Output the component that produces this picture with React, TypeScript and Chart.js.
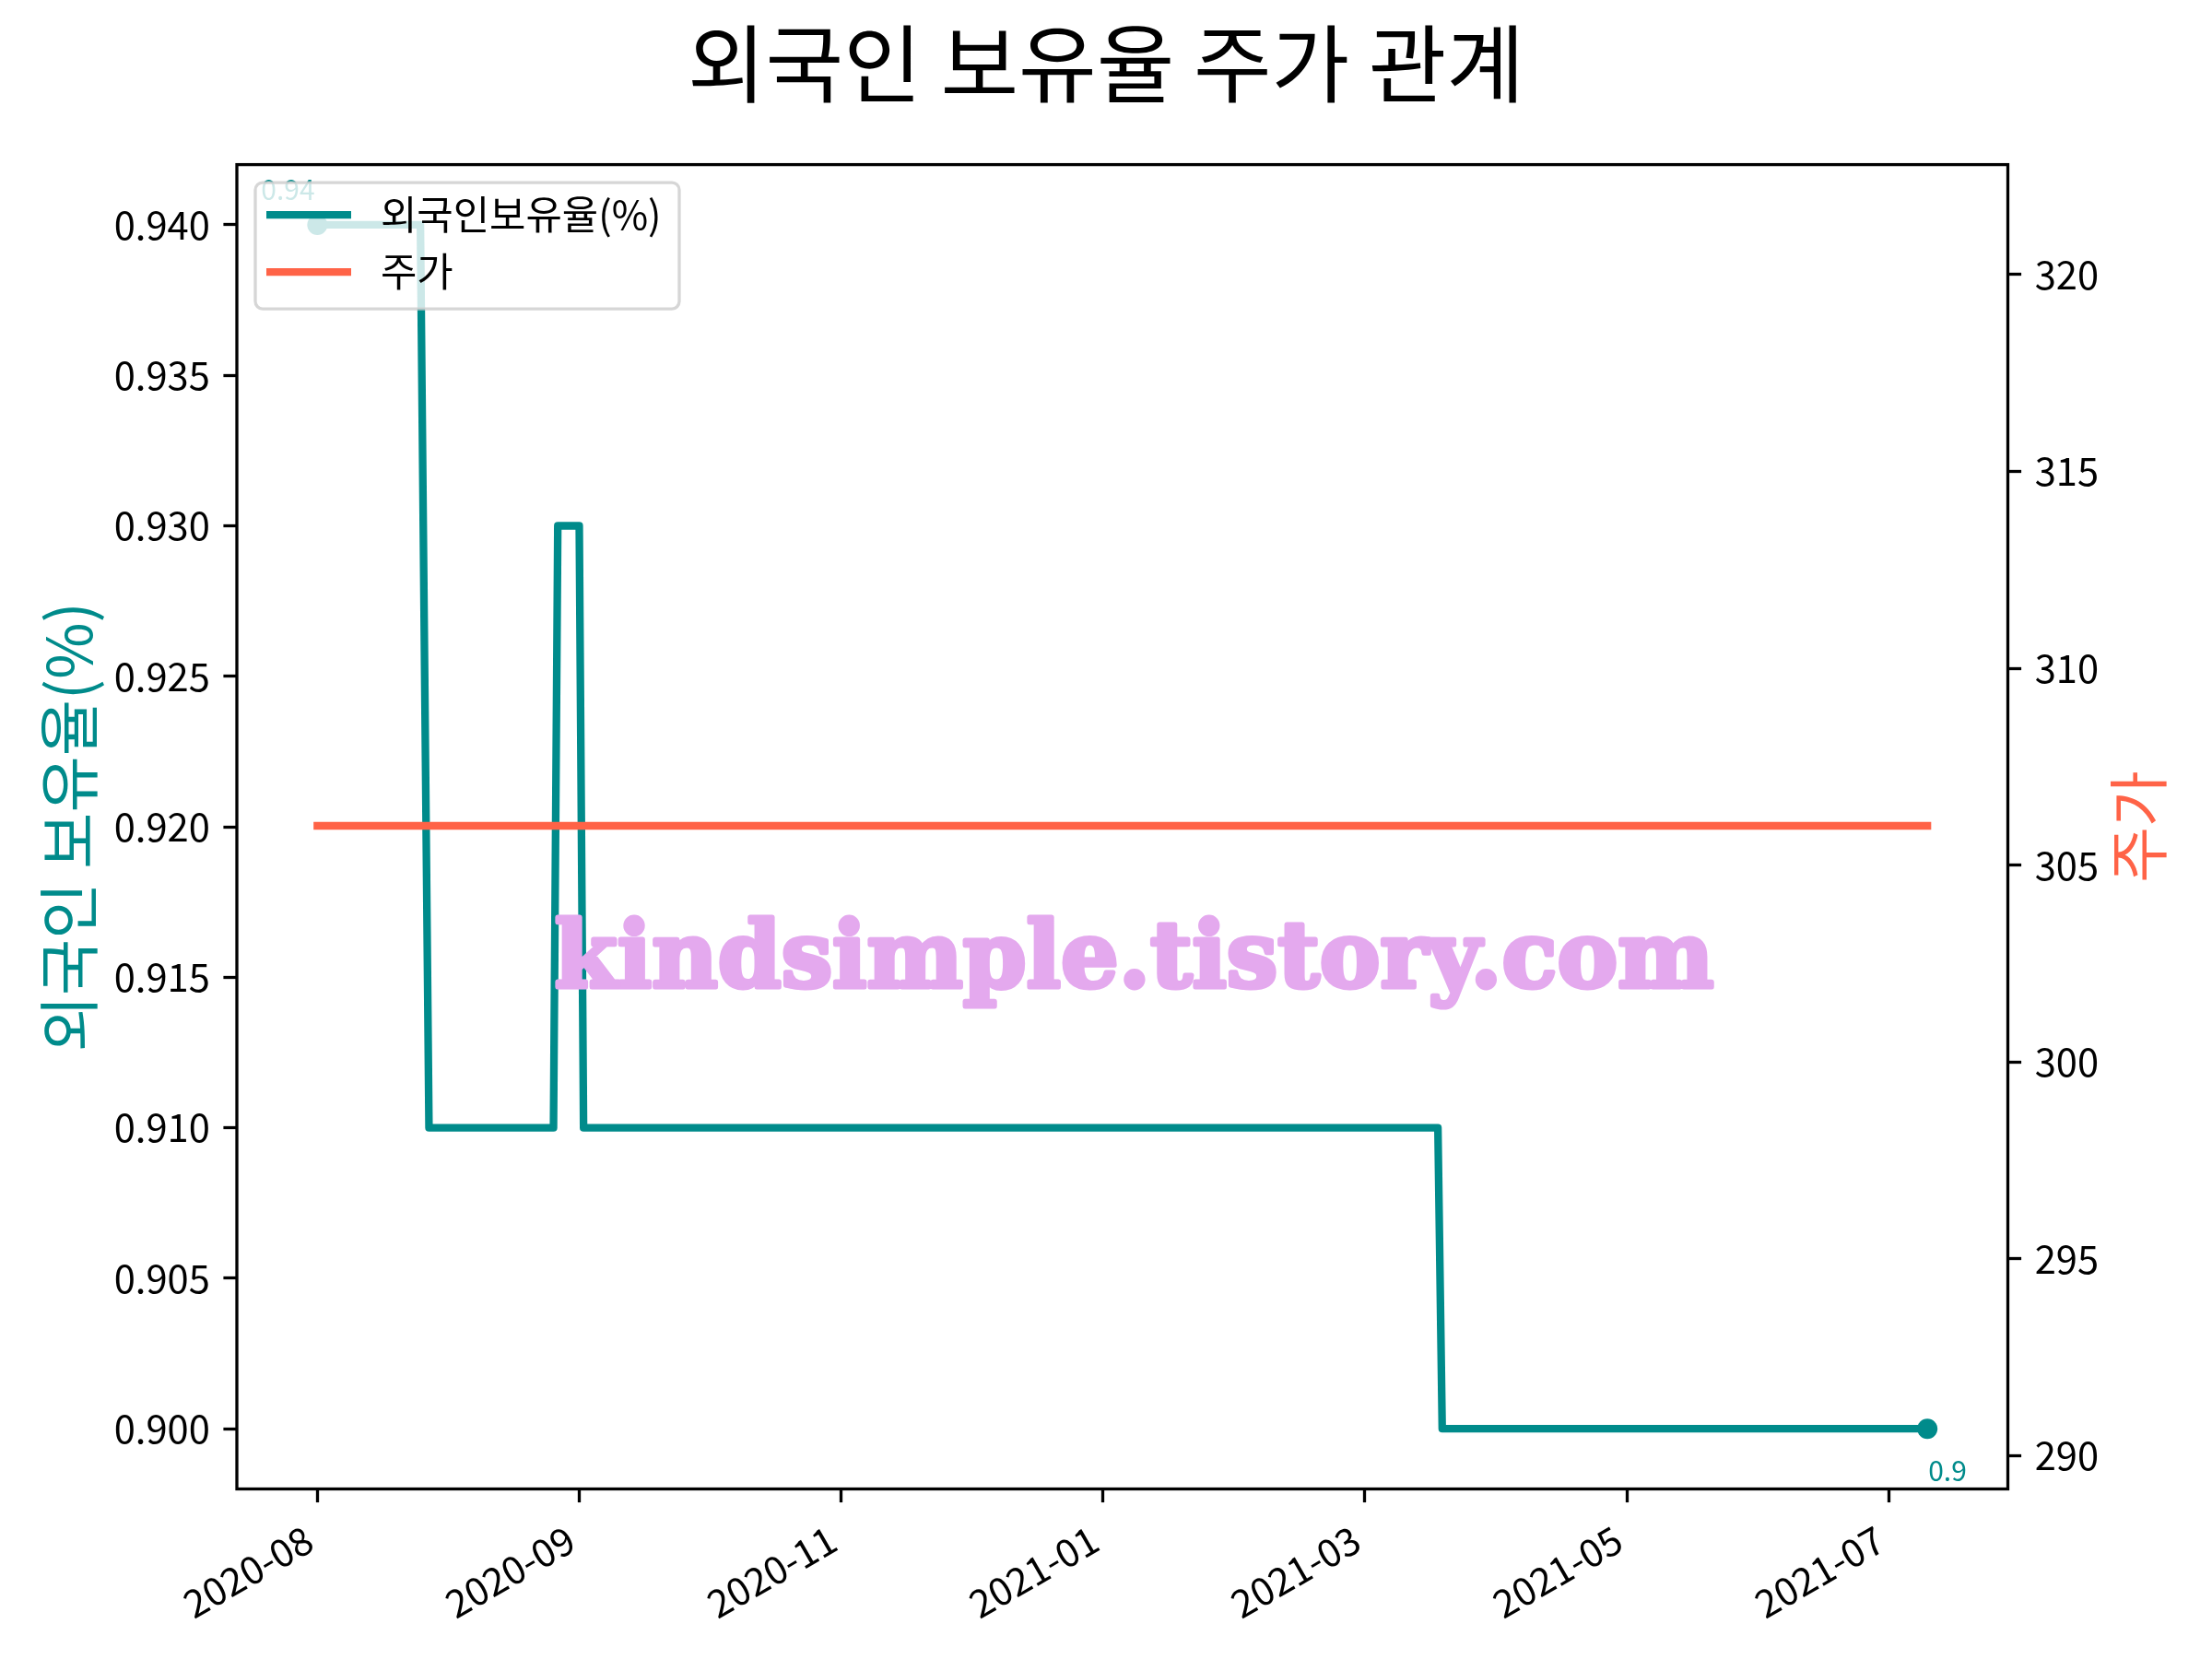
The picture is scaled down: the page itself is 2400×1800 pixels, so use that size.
import React, { useEffect, useRef } from 'react';
import { Chart, registerables } from 'chart.js';

Chart.register(...registerables);

// ---------- data ----------
const TITLE = '외국인 보유율 주가 관계';
const LEFT_LABEL = '외국인 보유율(%)';
const RIGHT_LABEL = '주가';
const HOLD_LABEL = '외국인보유율(%)';
const PRICE_LABEL = '주가';
const WATERMARK = 'kindsimple.tistory.com';

// x values: days counted from the first observation
const holdDays = [0, 24, 26, 55, 56, 61, 62, 261, 262, 375];
const holdRatio = [0.94, 0.94, 0.91, 0.91, 0.93, 0.93, 0.91, 0.91, 0.9, 0.9];
const priceDays = [0, 375];
const priceValues = [306, 306];

const xTickDays = [0, 61, 122, 183, 244, 305, 366];
const xTickLabels = ['2020-08', '2020-09', '2020-11', '2021-01', '2021-03', '2021-05', '2021-07'];
const leftTicks = [0.9, 0.905, 0.91, 0.915, 0.92, 0.925, 0.93, 0.935, 0.94];
const rightTicks = [290, 295, 300, 305, 310, 315, 320];

const X_MIN = -18.75;
const X_MAX = 393.75;
const LEFT_MIN = 0.898;
const LEFT_MAX = 0.942;
const RIGHT_MIN = 289.16;
const RIGHT_MAX = 322.79;

// ---------- styles ----------
const TEAL = '#008B8B';
const TOMATO = '#FF6347';
const FONT = "'Noto Sans CJK KR', 'Noto Sans', sans-serif";
const LW = 8.3;
const TICK_LEN = 14.6;
const TICK_W = 3.3;

const overlayPlugin = {
  id: 'overlay',
  afterDatasetsDraw(chart: any) {
    const ctx: CanvasRenderingContext2D = chart.ctx;
    const a = chart.chartArea;
    const xs = chart.scales.x;
    const ys = chart.scales.y;
    ctx.save();

    // value annotations
    ctx.font = `30px ${FONT}`;
    ctx.fillStyle = TEAL;
    ctx.textBaseline = 'alphabetic';
    ctx.textAlign = 'left';
    const n = holdDays.length - 1;
    ctx.fillText(String(holdRatio[0]), xs.getPixelForValue(holdDays[0]) - 61, ys.getPixelForValue(holdRatio[0]) - 27);
    ctx.fillText(String(holdRatio[n]), xs.getPixelForValue(holdDays[n]) + 1, ys.getPixelForValue(holdRatio[n]) + 57);

    // frame
    ctx.strokeStyle = '#000';
    ctx.lineWidth = TICK_W;
    ctx.strokeRect(a.left, a.top, a.right - a.left, a.bottom - a.top);

    // legend
    const lx = a.left + 20;
    const ly = a.top + 19.5;
    const lw = 460;
    const lh = 137;
    ctx.beginPath();
    (ctx as any).roundRect(lx, ly, lw, lh, 8);
    ctx.fillStyle = 'rgba(255,255,255,0.8)';
    ctx.fill();
    ctx.strokeStyle = 'rgba(204,204,204,0.8)';
    ctx.lineWidth = 3.3;
    ctx.stroke();
    const items = [
      { label: HOLD_LABEL, color: TEAL, y: ly + 35 },
      { label: PRICE_LABEL, color: TOMATO, y: ly + 97 },
    ];
    ctx.font = `42.8px ${FONT}`;
    ctx.textBaseline = 'middle';
    for (const it of items) {
      ctx.strokeStyle = it.color;
      ctx.lineWidth = LW;
      ctx.lineCap = 'butt';
      ctx.beginPath();
      ctx.moveTo(lx + 12, it.y);
      ctx.lineTo(lx + 104, it.y);
      ctx.stroke();
      ctx.fillStyle = '#000';
      ctx.fillText(it.label, lx + 136, it.y);
    }

    // watermark
    ctx.font = `bold 100px 'DejaVu Serif', serif`;
    const w = ctx.measureText(WATERMARK).width;
    const targetW = 1258;
    ctx.translate(1230.5, 1071);
    ctx.scale(targetW / w, 1);
    ctx.textAlign = 'center';
    ctx.textBaseline = 'alphabetic';
    ctx.fillStyle = '#E4A9EE';
    ctx.strokeStyle = '#E4A9EE';
    ctx.lineWidth = 5;
    ctx.lineJoin = 'round';
    ctx.strokeText(WATERMARK, 0, 0);
    ctx.fillText(WATERMARK, 0, 0);
    ctx.restore();

    // right axis title
    ctx.save();
    ctx.translate(2320, (a.top + a.bottom) / 2);
    ctx.rotate(-Math.PI / 2);
    ctx.font = `66px ${FONT}`;
    ctx.fillStyle = TOMATO;
    ctx.textAlign = 'center';
    ctx.textBaseline = 'middle';
    ctx.fillText(RIGHT_LABEL, 0, 0);
    ctx.restore();
  },
};

export default function App() {
  const ref = useRef<HTMLCanvasElement | null>(null);

  useEffect(() => {
    if (!ref.current) return;
    const pointSizes = holdDays.map((_, i) => (i === 0 || i === holdDays.length - 1 ? 11 : 0));
    const tickFont = { family: FONT, size: 41.7 };
    const gridCommon = {
      drawOnChartArea: false,
      drawTicks: true,
      tickLength: TICK_LEN,
      tickWidth: TICK_W,
      tickColor: '#000',
    };
    const chart = new Chart(ref.current, {
      type: 'line',
      data: {
        datasets: [
          {
            label: PRICE_LABEL,
            data: priceDays.map((d, i) => ({ x: d, y: priceValues[i] })),
            borderColor: TOMATO,
            backgroundColor: TOMATO,
            borderWidth: LW,
            pointRadius: 0,
            borderCapStyle: 'square',
            borderJoinStyle: 'round',
            yAxisID: 'y1',
            order: 0,
          },
          {
            label: HOLD_LABEL,
            data: holdDays.map((d, i) => ({ x: d, y: holdRatio[i] })),
            borderColor: TEAL,
            backgroundColor: TEAL,
            borderWidth: LW,
            pointRadius: pointSizes,
            pointBorderWidth: 0,
            pointBackgroundColor: TEAL,
            borderCapStyle: 'square',
            borderJoinStyle: 'round',
            yAxisID: 'y',
            order: 1,
          },
        ],
      },
      options: {
        responsive: false,
        animation: false,
        devicePixelRatio: 1,
        layout: { padding: 0 },
        plugins: {
          legend: { display: false },
          tooltip: { enabled: false },
          title: {
            display: true,
            text: TITLE,
            color: '#000',
            font: { family: FONT, size: 92, weight: 'normal', lineHeight: 1.2 },
            padding: { top: 14, bottom: 54.2 },
          },
        },
        scales: {
          x: {
            type: 'linear',
            min: X_MIN,
            max: X_MAX,
            afterFit: (s: any) => {
              s.height = 184.5;
            },
            afterBuildTicks: (s: any) => {
              s.ticks = xTickDays.map((v) => ({ value: v }));
            },
            ticks: {
              autoSkip: false,
              minRotation: 30,
              maxRotation: 30,
              padding: 15,
              labelOffset: -9,
              color: '#000',
              font: tickFont,
              callback: (_v: any, i: number) => xTickLabels[i],
            },
            grid: gridCommon,
            border: { display: false },
          },
          y: {
            position: 'left',
            min: LEFT_MIN,
            max: LEFT_MAX,
            afterFit: (s: any) => {
              s.width = 257;
            },
            afterBuildTicks: (s: any) => {
              s.ticks = leftTicks.map((v) => ({ value: v }));
            },
            ticks: {
              padding: 14.6,
              color: '#000',
              font: tickFont,
              callback: (v: any) => Number(v).toFixed(3),
            },
            grid: gridCommon,
            border: { display: false },
            title: {
              display: true,
              text: LEFT_LABEL,
              color: TEAL,
              font: { family: FONT, size: 66.5, lineHeight: 1.2 },
              padding: { top: 35, bottom: 0 },
            },
          },
          y1: {
            position: 'right',
            min: RIGHT_MIN,
            max: RIGHT_MAX,
            afterFit: (s: any) => {
              s.width = 221.5;
            },
            afterBuildTicks: (s: any) => {
              s.ticks = rightTicks.map((v) => ({ value: v }));
            },
            ticks: {
              padding: 14.6,
              color: '#000',
              font: tickFont,
              callback: (v: any) => String(v),
            },
            grid: gridCommon,
            border: { display: false },
          },
        },
      },
      plugins: [overlayPlugin],
    } as any);
    return () => chart.destroy();
  }, []);

  return (
    <div style={{ position: 'absolute', left: 0, top: 0, width: 2400, height: 1800, background: '#fff' }}>
      <canvas ref={ref} width={2400} height={1800} style={{ display: 'block', width: 2400, height: 1800 }} />
    </div>
  );
}
